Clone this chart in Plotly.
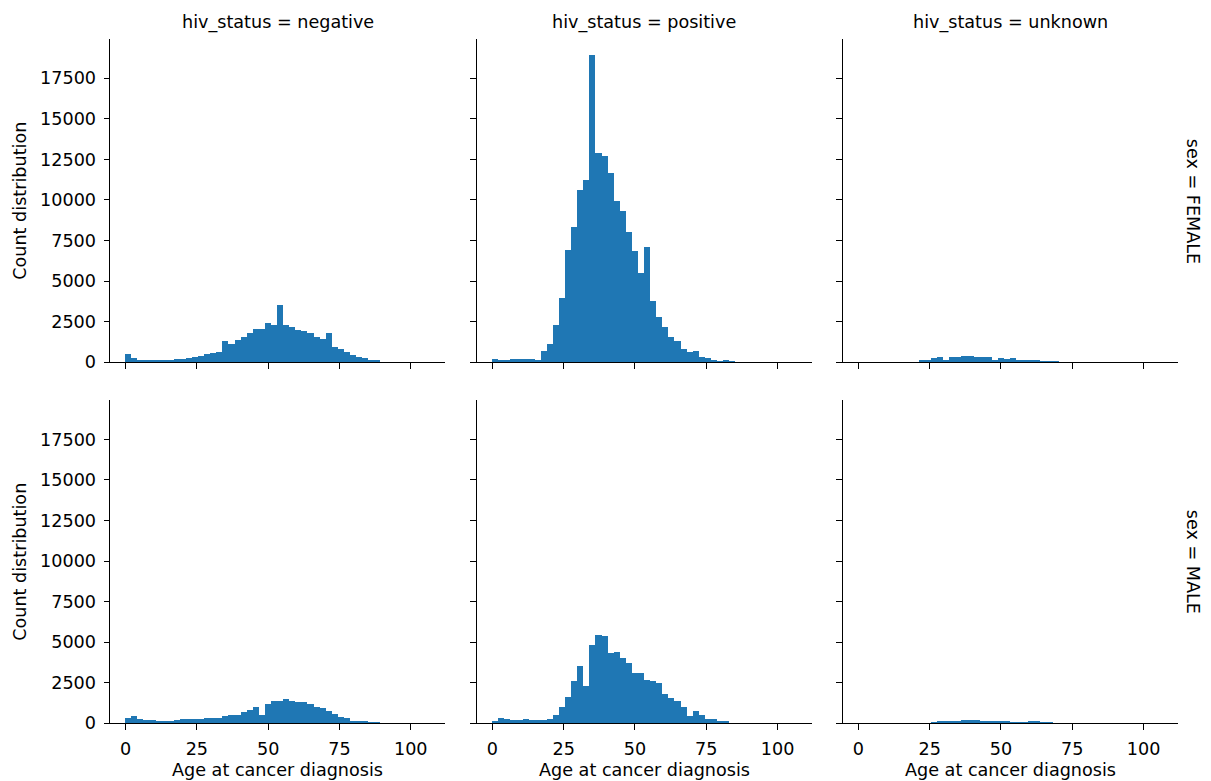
import plotly.graph_objects as go

# ---------------- data ----------------
hiv_status = ["negative", "positive", "unknown"]
sex = ["FEMALE", "MALE"]

# histogram counts per 2.13-year bin, starting at age 0
female_negative = [494, 247, 124, 82, 82, 82, 82, 82, 185, 144, 206, 268, 371, 494, 515, 618,
                   1298, 1092, 1360, 1524, 1751, 2019, 1998, 2390, 2266, 3523, 2287, 2122, 1978,
                   1875, 1751, 1545, 1421, 1751, 900, 783, 577, 433, 288, 206, 124, 100]
female_positive = [150, 60, 100, 165, 165, 145, 145, 60, 680, 1070, 2264, 3950, 6915, 8294, 10578,
                   11196, 18934, 12863, 12677, 11628, 9920, 9282, 7985, 6853, 5454, 7059, 3725,
                   2758, 2161, 1523, 1255, 762, 618, 680, 309, 227, 103, 41, 82, 20]
female_unknown = [0, 0, 0, 0, 0, 0, 0, 0, 0, 0, 62, 124, 206, 268, 103, 309, 309, 371, 371, 288,
                  288, 288, 124, 206, 165, 206, 124, 103, 103, 62, 41, 41, 41]
male_negative = [288, 391, 247, 185, 144, 124, 103, 124, 185, 226, 247, 247, 247, 288, 288, 288,
                 412, 453, 494, 639, 803, 948, 474, 1154, 1360, 1360, 1483, 1360, 1298, 1257,
                 1154, 968, 886, 700, 515, 350, 268, 124, 82, 62, 41, 20]
male_positive = [103, 310, 248, 186, 145, 207, 186, 186, 165, 227, 496, 950, 1570, 2603, 3533,
                 2252, 4814, 5392, 5351, 4277, 4339, 3967, 3677, 3099, 3099, 2644, 2603, 2438,
                 1777, 1529, 1322, 992, 434, 702, 455, 248, 207, 124, 83]
male_unknown = [0, 0, 0, 0, 0, 0, 0, 0, 0, 0, 0, 0, 41, 62, 103, 124, 62, 155, 155, 145, 103,
                62, 124, 103, 62, 41, 41, 41, 82, 82, 20, 20]

x_ticks = [0, 25, 50, 75, 100]
y_ticks = [0, 2500, 5000, 7500, 10000, 12500, 15000, 17500]
y_tick_labels = ["0", "2500", "5000", "7500", "10000", "12500", "15000", "17500"]

counts = [[female_negative, female_positive, female_unknown],
          [male_negative, male_positive, male_unknown]]

# ---------------- layout helpers ----------------
W, H = 1211, 792          # layout size (the captured page is fitted to 1211x781)
REF_H = 781               # picture height used for positioning
BIN_START, BIN_W = 0.0, 2.13
col_left = [110.3, 477.1, 843.1]
col_w = 334.4
row_top = [39.3, 399.9]
row_h = 322.4
X_RANGE = [-5.33, 111.9]
Y_RANGE = [0, 19900]
FONT = "DejaVu Sans"
FS = 17.6
BLUE = "#1f77b4"


def px_x(v):
    return v / W


def px_y(v):
    return (REF_H - v) / REF_H


fig = go.Figure()
annotations = []
for r in range(2):
    for c in range(3):
        i = r * 3 + c + 1
        sfx = "" if i == 1 else str(i)
        ys = counts[r][c]
        xs = [BIN_START + (k + 0.5) * BIN_W for k in range(len(ys))]
        fig.add_trace(go.Bar(
            x=xs, y=ys, width=[BIN_W] * len(ys),
            marker=dict(color=BLUE, line=dict(width=0)),
            xaxis="x" + sfx, yaxis="y" + sfx, showlegend=False, hoverinfo="x+y"))
        common = dict(showgrid=False, zeroline=False, showline=True, linecolor="black",
                      linewidth=1.3, ticks="outside", ticklen=5.6, tickwidth=1.3,
                      tickcolor="black", tickfont=dict(family=FONT, size=FS, color="black"))
        fig.layout["xaxis" + sfx] = dict(
            domain=[px_x(col_left[c]), px_x(col_left[c] + col_w)],
            range=X_RANGE, tickvals=x_ticks, showticklabels=(r == 1),
            anchor="y" + sfx, ticklabelstandoff=4, **common)
        fig.layout["yaxis" + sfx] = dict(
            domain=[px_y(row_top[r] + row_h), px_y(row_top[r])],
            range=Y_RANGE, tickvals=y_ticks, ticktext=y_tick_labels, showticklabels=(c == 0),
            anchor="x" + sfx, ticklabelstandoff=4, **common)

# column titles and x-axis titles
for c in range(3):
    annotations.append(dict(
        text=f"hiv_status = {hiv_status[c]}", xref="paper", yref="paper",
        x=px_x(col_left[c] + col_w / 2), y=px_y(22), xanchor="center", yanchor="middle",
        showarrow=False, font=dict(family=FONT, size=FS, color="black")))
    annotations.append(dict(
        text="Age at cancer diagnosis", xref="paper", yref="paper",
        x=px_x(col_left[c] + col_w / 2), y=px_y(769), xanchor="center", yanchor="middle",
        showarrow=False, font=dict(family=FONT, size=FS, color="black")))
# row titles and y-axis titles
for r in range(2):
    annotations.append(dict(
        text=f"sex = {sex[r]}", xref="paper", yref="paper",
        x=px_x(1193), y=px_y(row_top[r] + row_h / 2), xanchor="center", yanchor="middle",
        textangle=90, showarrow=False, font=dict(family=FONT, size=FS, color="black")))
    annotations.append(dict(
        text="Count distribution", xref="paper", yref="paper",
        x=px_x(20), y=px_y(row_top[r] + row_h / 2), xanchor="center", yanchor="middle",
        textangle=-90, showarrow=False, font=dict(family=FONT, size=FS, color="black")))

fig.update_layout(
    width=W, height=H, autosize=False, margin=dict(l=0, r=0, t=0, b=0, pad=0),
    paper_bgcolor="white", plot_bgcolor="white", bargap=0,
    annotations=annotations, font=dict(family=FONT, size=FS, color="black"))

fig.write_html("out.html")
